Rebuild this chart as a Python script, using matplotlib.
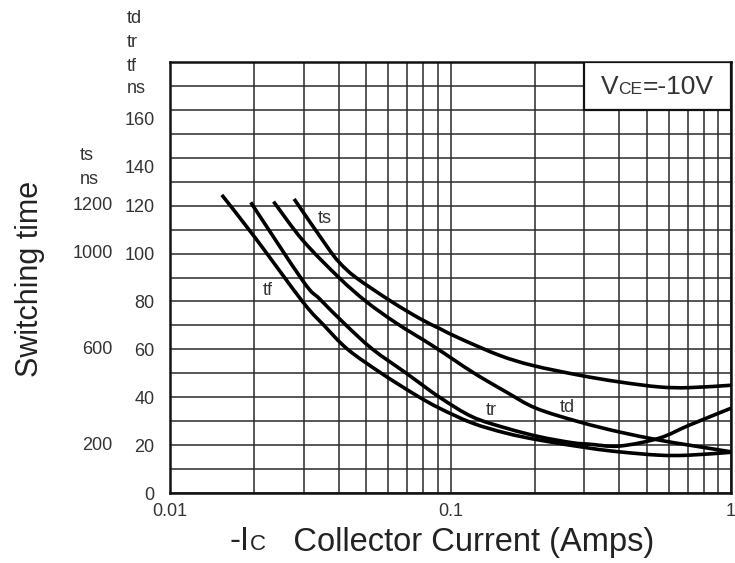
import matplotlib
matplotlib.use("Agg")
import numpy as np
import matplotlib.pyplot as plt
import matplotlib.transforms as mtrans
from matplotlib.offsetbox import TextArea, HPacker, AnnotationBbox
from matplotlib.patches import Rectangle, PathPatch
from matplotlib.path import Path

plt.rcParams['font.family'] = ['Liberation Sans', 'DejaVu Sans']

# ---- data (Ic in A, time in ns; ts axis = x10) ----
ts_x = [0.0277, 0.0361, 0.040, 0.046, 0.0615, 0.0776, 0.0914, 0.1077, 0.1494, 0.1958, 0.2878, 0.3994, 0.5543, 0.7088, 1.0]
ts_y = [122.8, 103.3, 96.5, 90.0, 80.0, 72.9, 68.7, 64.6, 57.5, 53.3, 49.2, 46.4, 44.3, 44.0, 45.0]

td_x = [0.0234, 0.0298, 0.040, 0.050, 0.064, 0.0877, 0.1197, 0.1579, 0.2018, 0.2878, 0.3994, 0.5543, 0.7088, 1.0]
td_y = [121.7, 105.4, 90.0, 80.0, 71.0, 61.0, 50.5, 42.2, 35.4, 29.7, 25.5, 22.1, 20.0, 17.2]

tr_x = [0.0194, 0.0298, 0.0342, 0.0425, 0.0528, 0.0696, 0.0914, 0.1197, 0.1579, 0.2074, 0.2718, 0.3123, 0.3994, 0.5543, 0.7088, 1.0]
tr_y = [121.4, 88.5, 81.0, 70.0, 60.0, 50.0, 40.0, 31.8, 27.1, 23.5, 21.0, 20.4, 19.6, 22.9, 28.3, 35.4]

tf_x = [0.0153, 0.020, 0.0298, 0.0354, 0.043, 0.0567, 0.075, 0.0914, 0.1197, 0.1579, 0.2074, 0.3123, 0.3994, 0.5543, 0.7088, 1.0]
tf_y = [124.5, 107.0, 79.7, 70.0, 60.0, 50.0, 41.0, 35.4, 29.2, 25.0, 22.1, 18.75, 17.2, 15.8, 15.8, 17.0]

series = [("ts", ts_x, ts_y), ("td", td_x, td_y), ("tr", tr_x, tr_y), ("tf", tf_x, tf_y)]

x_major = [0.01, 0.1, 1]
x_major_labels = ["0.01", "0.1", "1"]
y_ticks = list(range(0, 181, 10))
y_tick_labels = ["0", "", "20", "", "40", "", "60", "", "80", "", "100", "", "120", "", "140", "", "160", "", ""]
ts_scale_vals = [120, 100, 60, 20]
ts_scale_labels = ["1200", "1000", "600", "200"]

TXT = "#333333"
LINE = "#2a2a2a"
FS = 13


def smooth_path(xs, ys):
    """Smooth curve through the read points (Catmull-Rom drawn as Bezier in log-x space)."""
    lx = np.log10(np.asarray(xs, float))
    yy = np.asarray(ys, float)
    P = np.column_stack([lx, yy])
    n = len(P)
    verts = [P[0]]
    codes = [Path.MOVETO]
    for i in range(n - 1):
        p0 = P[i - 1] if i > 0 else P[i]
        p1 = P[i]
        p2 = P[i + 1]
        p3 = P[i + 2] if i + 2 < n else P[i + 1]
        c1 = p1 + (p2 - p0) / 6.0
        c2 = p2 - (p3 - p1) / 6.0
        verts += [c1, c2, p2]
        codes += [Path.CURVE4] * 3
    V = np.array(verts)
    V[:, 0] = 10 ** V[:, 0]
    return Path(V, codes)


fig = plt.figure(figsize=(7.35, 5.63), dpi=100)
ax = fig.add_axes([170 / 735, 70 / 563, 561 / 735, 431 / 563])
ax.set_xscale("log")
ax.set_xlim(0.01, 1)
ax.set_ylim(0, 180)

minor = [m * d for d in (0.01, 0.1) for m in range(2, 10)]
ax.set_xticks(x_major)
ax.set_xticklabels(x_major_labels)
ax.set_xticks(minor, minor=True)
ax.set_xticklabels([], minor=True)
ax.set_yticks(y_ticks)
ax.set_yticklabels(y_tick_labels)
ax.tick_params(which="both", length=0, labelsize=FS, labelcolor=TXT)
ax.tick_params(axis="y", pad=11)
ax.tick_params(axis="x", pad=7)
ax.grid(which="both", color=LINE, lw=1.1)
ax.set_axisbelow(True)
for sp in ax.spines.values():
    sp.set_linewidth(1.8)
    sp.set_color("#111111")

# nudge the upper two left labels down a little as in the reference
for lab in ax.get_yticklabels():
    if lab.get_text() in ("140", "160"):
        lab.set_transform(lab.get_transform() + mtrans.ScaledTranslation(0, -6 / 72, fig.dpi_scale_trans))

for name, xs, ys in series:
    ax.add_patch(PathPatch(smooth_path(xs, ys), facecolor="none", edgecolor="black", lw=2.6,
                           capstyle="butt", joinstyle="round", zorder=3))

# curve labels
lab_pos = {"ts": (0.0356, 114.6), "tf": (0.0223, 84.6), "tr": (0.140, 34.6), "td": (0.261, 35.8)}
for k, (xx, yy) in lab_pos.items():
    ax.text(xx, yy, k, fontsize=FS, color=TXT, ha="center", va="center", zorder=4)

# secondary (ts) scale and unit labels on the left
yt = ax.get_yaxis_transform()
for v, s in zip(ts_scale_vals, ts_scale_labels):
    ax.text(-0.102, v, s, transform=yt, ha="right", va="center", fontsize=FS, color=TXT, clip_on=False)
ax.text(-0.160, 141, "ts", transform=yt, ha="left", va="center", fontsize=FS, color=TXT, clip_on=False)
ax.text(-0.160, 131, "ns", transform=yt, ha="left", va="center", fontsize=FS, color=TXT, clip_on=False)
for v, s in zip([198, 188, 178, 169], ["td", "tr", "tf", "ns"]):
    ax.text(-0.077, v, s, transform=yt, ha="left", va="center", fontsize=FS, color=TXT, clip_on=False)

# condition box
ax.add_patch(Rectangle((0.3, 160), 0.7, 20, facecolor="white", edgecolor="#111111", lw=1.6, zorder=5))
box = HPacker(children=[TextArea("V", textprops=dict(fontsize=19, color=TXT)),
                        TextArea("CE", textprops=dict(fontsize=12.5, color=TXT)),
                        TextArea("=-10V", textprops=dict(fontsize=19, color=TXT))],
              align="baseline", pad=0, sep=0)
ab = AnnotationBbox(box, (657 / 735, 1 - 87 / 563), xycoords="figure fraction", frameon=False, zorder=6)
fig.add_artist(ab)

# axis labels
fig.text(30 / 735, 1 - 279 / 563, "Switching time", rotation=90, ha="center", va="center",
         fontsize=22, color="#222222")
xl = HPacker(children=[TextArea("-I", textprops=dict(fontsize=23.5, color="#222222")),
                       TextArea("C", textprops=dict(fontsize=16, color="#222222")),
                       TextArea("   Collector Current (Amps)", textprops=dict(fontsize=23.5, color="#222222"))],
             align="baseline", pad=0, sep=0)
ab2 = AnnotationBbox(xl, (442 / 735, 1 - 542 / 563), xycoords="figure fraction", frameon=False)
fig.add_artist(ab2)

fig.savefig("out.png", dpi=100)
